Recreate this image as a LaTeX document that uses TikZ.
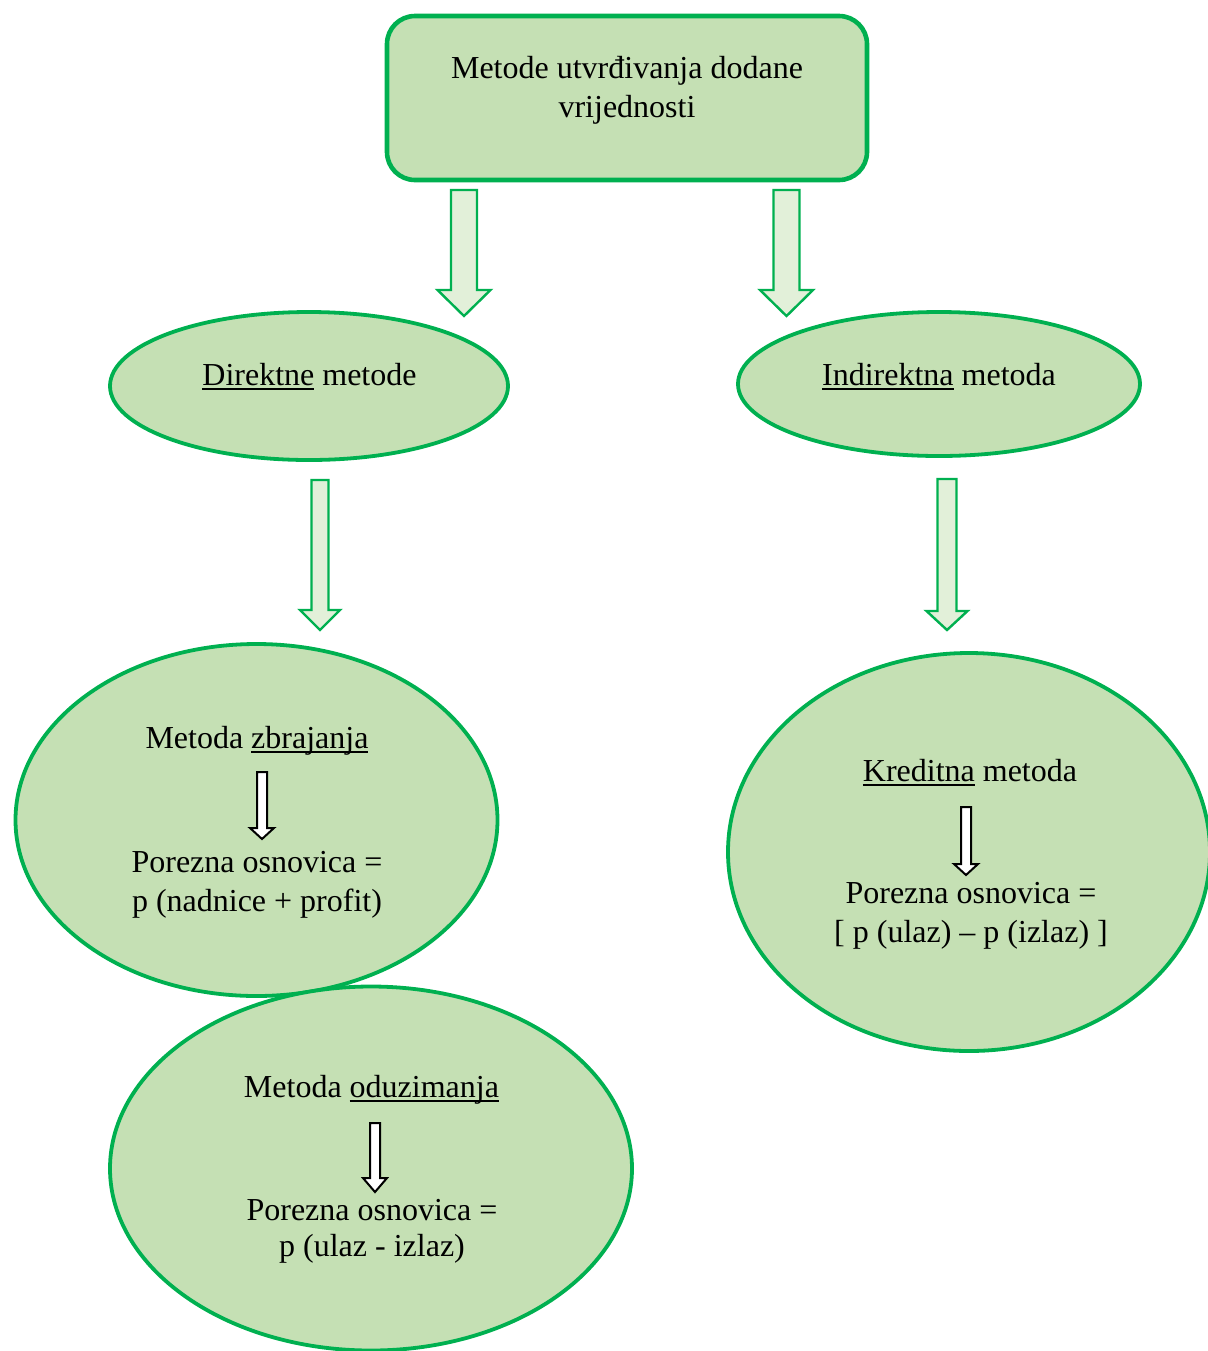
\documentclass[tikz,border=0pt]{standalone}
\usepackage{fontspec}
\setmainfont{Liberation Serif}
\usepackage{xcolor}
\usepackage{tikz}
\usetikzlibrary{shapes.geometric}

\definecolor{okvir}{HTML}{00B050}
\definecolor{ispuna}{HTML}{C5E0B4}
\definecolor{strelica}{HTML}{E2F0D9}

\newsavebox{\crtabox}
\newcommand{\crta}[1]{\sbox{\crtabox}{#1}\rlap{\rule[-2.4pt]{\wd\crtabox}{0.9pt}}\usebox{\crtabox}}

\tikzset{
	metoda/.style={ellipse, draw=okvir, fill=ispuna, line width=1.9pt, inner sep=0pt},
	tekst/.style={anchor=base, inner sep=0pt},
	velika/.style={draw=okvir, fill=strelica, line width=1.2pt},
	mala/.style={draw=black, fill=white, line width=1pt}
}

\begin{document}
\begin{tikzpicture}[x=50pt, y=-50pt, font=\fontsize{16}{20}\selectfont]
	\useasboundingbox (0,0) rectangle (12.08,13.51);

	\node[draw=okvir, fill=ispuna, line width=2.3pt, rounded corners=14pt, minimum width=240pt, minimum height=82pt] (naslov) at (6.27,0.98) {};
	\node[tekst] (naslov1) at (6.27,0.78) {Metode utvrđivanja dodane};
	\node[tekst] (naslov2) at (6.27,1.17) {vrijednosti};

	\node[metoda, minimum width=199pt, minimum height=74pt] (direktne) at (3.09,3.86) {};
	\node[metoda, minimum width=201pt, minimum height=72pt] (indirektna) at (9.39,3.84) {};
	\node[metoda, minimum width=241pt, minimum height=176pt] (zbrajanje) at (2.565,8.20) {};
	\node[metoda, minimum width=261pt, minimum height=182pt] (oduzimanje) at (3.71,11.685) {};
	\node[metoda, minimum width=241pt, minimum height=199pt] (kreditna) at (9.69,8.52) {};

	% blok strelice
	\foreach \x/\a/\b/\c/\s/\h in {4.64/1.90/2.90/3.16/0.13/0.265, 7.865/1.90/2.90/3.16/0.13/0.265, 3.20/4.80/6.10/6.30/0.085/0.20, 9.47/4.79/6.11/6.30/0.095/0.205}
		\draw[velika] (\x-\s,\a) -- (\x+\s,\a) -- (\x+\s,\b) -- (\x+\h,\b) -- (\x,\c) -- (\x-\h,\b) -- (\x-\s,\b) -- cycle;

	\foreach \x/\a/\b/\c in {2.62/7.72/8.28/8.39, 3.75/11.23/11.78/11.92, 9.66/8.07/8.64/8.75}
		\draw[mala] (\x-0.05,\a) -- (\x+0.05,\a) -- (\x+0.05,\b) -- (\x+0.12,\b) -- (\x,\c) -- (\x-0.12,\b) -- (\x-0.05,\b) -- cycle;

	\node[tekst] (direktne1) at (3.095,3.85) {\crta{Direktne} metode};
	\node[tekst] (indirektna1) at (9.39,3.85) {\crta{Indirektna} metoda};

	\node[tekst] (zbrajanje1) at (2.57,7.48) {Metoda \crta{zbrajanja}};
	\node[tekst] (zbrajanje2) at (2.57,8.72) {Porezna osnovica =};
	\node[tekst] (zbrajanje3) at (2.57,9.11) {p (nadnice + profit)};

	\node[tekst] (oduzimanje1) at (3.715,10.97) {Metoda \crta{oduzimanja}};
	\node[tekst] (oduzimanje2) at (3.72,12.20) {Porezna osnovica =};
	\node[tekst] (oduzimanje3) at (3.72,12.56) {p (ulaz - izlaz)};

	\node[tekst] (kreditna1) at (9.70,7.81) {\crta{Kreditna} metoda};
	\node[tekst] (kreditna2) at (9.71,9.03) {Porezna osnovica =};
	\node[tekst] (kreditna3) at (9.71,9.42) {[ p (ulaz) – p (izlaz) ]};
\end{tikzpicture}
\end{document}
